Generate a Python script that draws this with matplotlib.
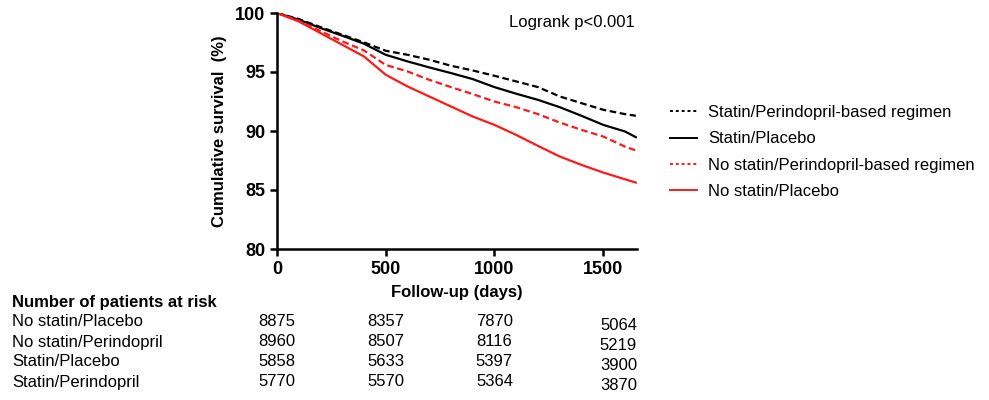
import matplotlib.pyplot as plt
from matplotlib import transforms

plt.rcParams['font.family'] = ['Liberation Sans', 'DejaVu Sans']

days = [0, 100, 200, 300, 400, 500, 600, 700, 800, 900, 1000,
        1100, 1200, 1300, 1400, 1500, 1600, 1650]

statin_perindopril = [100, 99.49, 98.81, 98.16, 97.51, 96.8, 96.46, 96.04, 95.53,
                      95.13, 94.68, 94.2, 93.72, 92.93, 92.36, 91.8, 91.43, 91.29]
statin_placebo = [100, 99.43, 98.73, 98.08, 97.4, 96.46, 95.9, 95.39, 94.91,
                  94.4, 93.72, 93.16, 92.64, 92.02, 91.29, 90.52, 89.96, 89.48]
nostatin_perindopril = [100, 99.35, 98.47, 97.6, 96.83, 95.6, 95.05, 94.34, 93.72,
                        93.13, 92.5, 92.02, 91.43, 90.72, 90.1, 89.53, 88.68, 88.35]
nostatin_placebo = [100, 99.29, 98.3, 97.31, 96.32, 94.77, 93.78, 92.93, 92.08,
                    91.23, 90.52, 89.67, 88.74, 87.84, 87.13, 86.48, 85.91, 85.63]

risk_groups = ['No statin/Placebo', 'No statin/Perindopril',
               'Statin/Placebo', 'Statin/Perindopril']
risk_counts = [[8875, 8357, 7870, 5064],
               [8960, 8507, 8116, 5219],
               [5858, 5633, 5397, 3900],
               [5770, 5570, 5364, 3870]]
risk_days = [0, 500, 1000, 1570]

fig = plt.figure(figsize=(9.89, 4), dpi=100)
ax = fig.add_axes([0.280, 0.3775, 0.364, 0.59])

dash = (0, (3, 1.6))
ax.plot(days, statin_perindopril, color='black', lw=1.6, ls=dash,
        label='Statin/Perindopril-based regimen')
ax.plot(days, statin_placebo, color='black', lw=1.6,
        label='Statin/Placebo')
ax.plot(days, nostatin_perindopril, color='#ff1a1a', lw=1.6, ls=dash,
        label='No statin/Perindopril-based regimen')
ax.plot(days, nostatin_placebo, color='#ff1a1a', lw=1.6,
        label='No statin/Placebo')

ax.set_xlim(0, 1655)
ax.set_ylim(80, 100)
ax.set_xticks([0, 500, 1000, 1500])
ax.set_yticks([80, 85, 90, 95, 100])
for s in ['top', 'right']:
    ax.spines[s].set_visible(False)
for s in ['left', 'bottom']:
    ax.spines[s].set_linewidth(1.8)
ax.tick_params(width=1.8, length=5, labelsize=13)
for lab in ax.get_xticklabels() + ax.get_yticklabels():
    lab.set_fontweight('bold')

ax.set_ylabel('Cumulative survival  (%)', fontsize=12, fontweight='bold', labelpad=6)
ax.set_xlabel('Follow-up (days)', fontsize=12, fontweight='bold', labelpad=5)

ax.text(0.995, 0.96, 'Logrank p<0.001', transform=ax.transAxes,
        ha='right', va='center', fontsize=12)

leg = ax.legend(loc='center left', bbox_to_anchor=(1.05, 0.411), frameon=False,
                fontsize=12, handlelength=1.62, labelspacing=0.68,
                handletextpad=0.66)
for h in leg.get_lines():
    h.set_linewidth(1.4)
    h.set_linestyle((0, (1.5, 1.5)) if h.get_linestyle() != '-' else '-')

# number at risk table
fig.text(0.012, 0.2425, 'Number of patients at risk', fontsize=12,
         fontweight='bold', va='center')
trans = transforms.blended_transform_factory(ax.transData, fig.transFigure)
row_y = [0.195, 0.145, 0.095, 0.045]
for name, counts, y in zip(risk_groups, risk_counts, row_y):
    fig.text(0.012, y, name, fontsize=12, va='center')
    for d, c in zip(risk_days, counts):
        off = -0.01 if d == risk_days[-1] else 0
        ax.text(d, y + off, str(c), transform=trans, fontsize=12,
                ha='center', va='center', clip_on=False)

fig.savefig('out.png', dpi=100)
